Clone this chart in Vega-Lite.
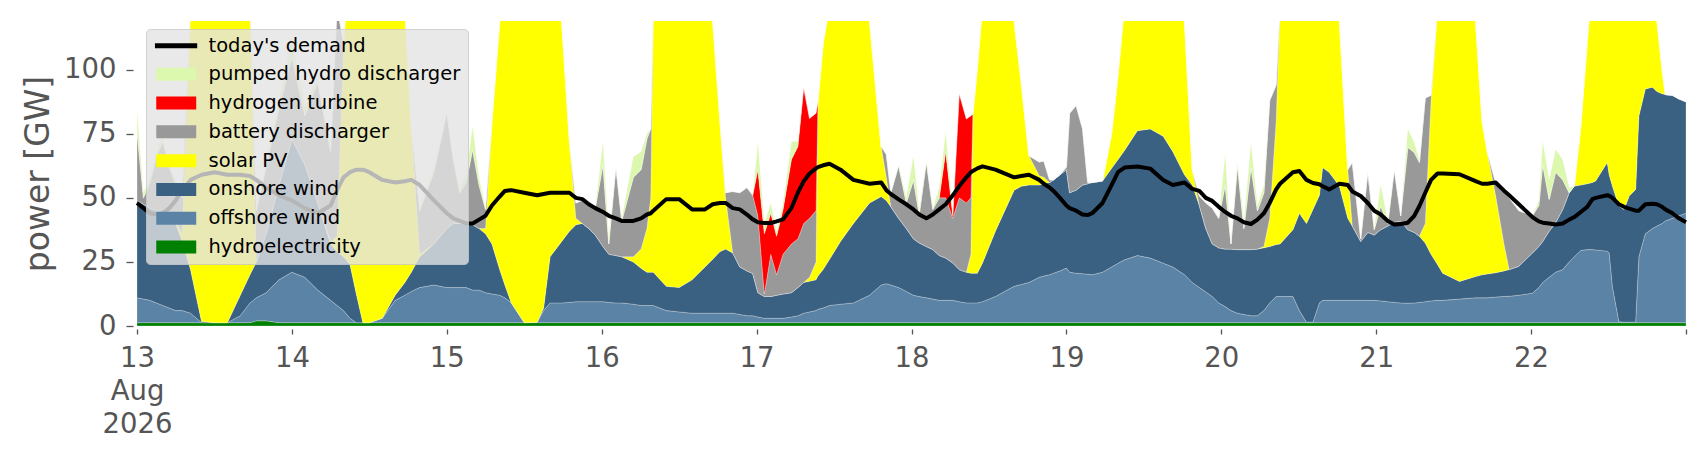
{
  "$schema": "https://vega.github.io/schema/vega-lite/v6.json",
  "width": 1549,
  "height": 305,
  "autosize": {"type": "none"},
  "padding": {"left": 137, "top": 21, "right": 20, "bottom": 114},
  "background": "#ffffff",
  "config": {
    "view": {"stroke": null},
    "font": "DejaVu Sans",
    "axis": {
      "domain": false,
      "grid": false,
      "labelFont": "DejaVu Sans",
      "titleFont": "DejaVu Sans",
      "labelColor": "#555555",
      "titleColor": "#555555",
      "tickColor": "#555555",
      "labelFontSize": 27.5,
      "titleFontWeight": "normal",
      "tickWidth": 1.3
    },
    "legend": {
      "labelFont": "DejaVu Sans",
      "titleFont": "DejaVu Sans",
      "labelFontSize": 19.5,
      "labelColor": "#000000",
      "labelLimit": 500,
      "symbolSize": 169,
      "symbolOpacity": 1,
      "labelOffset": 36,
      "rowPadding": 7.8,
      "padding": 7
    }
  },
  "data": {
    "values": [
      {"h": 0, "hy": 1.3, "off": 9.7, "on": 38, "pv": 0, "bat": 27, "h2": 0, "ph": 8, "d": 48},
      {"h": 1, "hy": 1.3, "off": 9.2, "on": 37, "pv": 0, "bat": 2.5, "h2": 0, "ph": 2, "d": 46},
      {"h": 2, "hy": 1.3, "off": 8.7, "on": 36, "pv": 0, "bat": 10, "h2": 0, "ph": 2, "d": 44},
      {"h": 3, "hy": 1.3, "off": 7.7, "on": 36, "pv": 0, "bat": 21, "h2": 0, "ph": 2, "d": 43.5},
      {"h": 4, "hy": 1.3, "off": 6.7, "on": 36, "pv": 0, "bat": 28, "h2": 0, "ph": 2, "d": 44},
      {"h": 5, "hy": 1.3, "off": 5.7, "on": 35, "pv": 0, "bat": 20, "h2": 0, "ph": 1, "d": 46},
      {"h": 6, "hy": 1.3, "off": 4.7, "on": 34, "pv": 1, "bat": 14, "h2": 0, "ph": 2, "d": 49},
      {"h": 7, "hy": 1.3, "off": 4.7, "on": 27, "pv": 3, "bat": 14, "h2": 0, "ph": 2, "d": 53},
      {"h": 8.3, "hy": 1.3, "off": 3.7, "on": 17, "pv": 103, "bat": 0, "h2": 0, "ph": 0, "d": 57},
      {"h": 10, "hy": 1.3, "off": 0, "on": 0.5, "pv": 148.5, "bat": 0, "h2": 0, "ph": 0, "d": 59},
      {"h": 12, "hy": 1.3, "off": 0, "on": 0, "pv": 159, "bat": 0, "h2": 0, "ph": 0, "d": 60},
      {"h": 14, "hy": 1.3, "off": 0, "on": 0, "pv": 159, "bat": 0, "h2": 0, "ph": 0, "d": 59},
      {"h": 16, "hy": 1.3, "off": 2.7, "on": 8, "pv": 138, "bat": 0, "h2": 0, "ph": 0, "d": 59},
      {"h": 17.5, "hy": 1.3, "off": 7.7, "on": 11, "pv": 110, "bat": 0, "h2": 0, "ph": 0, "d": 58.5},
      {"h": 18.5, "hy": 2, "off": 9, "on": 14, "pv": 0, "bat": 20, "h2": 0, "ph": 1, "d": 57},
      {"h": 20, "hy": 2, "off": 11, "on": 23, "pv": 0, "bat": 26, "h2": 0, "ph": 2, "d": 54},
      {"h": 22, "hy": 1.3, "off": 16.7, "on": 37, "pv": 0, "bat": 30, "h2": 0, "ph": 3, "d": 51},
      {"h": 24, "hy": 1.3, "off": 19.7, "on": 52, "pv": 0, "bat": 32, "h2": 0, "ph": 7, "d": 49},
      {"h": 26, "hy": 1.3, "off": 17.7, "on": 44, "pv": 0, "bat": 19, "h2": 0, "ph": 4, "d": 46},
      {"h": 28, "hy": 1.3, "off": 12.7, "on": 34, "pv": 0, "bat": 47, "h2": 0, "ph": 2, "d": 44},
      {"h": 30, "hy": 1.3, "off": 8.7, "on": 22, "pv": 1, "bat": 35, "h2": 0, "ph": 2, "d": 47},
      {"h": 31, "hy": 1.3, "off": 6.7, "on": 21, "pv": 6, "bat": 90, "h2": 0, "ph": 0, "d": 53},
      {"h": 32, "hy": 1.3, "off": 4.7, "on": 21, "pv": 83, "bat": 0, "h2": 0, "ph": 0, "d": 58},
      {"h": 33, "hy": 1.3, "off": 1.7, "on": 21, "pv": 126, "bat": 0, "h2": 0, "ph": 0, "d": 60},
      {"h": 34, "hy": 1.3, "off": 0, "on": 11, "pv": 148, "bat": 0, "h2": 0, "ph": 0, "d": 61},
      {"h": 35, "hy": 1.3, "off": 0, "on": 0, "pv": 159, "bat": 0, "h2": 0, "ph": 0, "d": 61},
      {"h": 36, "hy": 1.3, "off": 0, "on": 0, "pv": 159, "bat": 0, "h2": 0, "ph": 0, "d": 60},
      {"h": 38, "hy": 1.3, "off": 1.7, "on": 0, "pv": 147, "bat": 0, "h2": 0, "ph": 0, "d": 57},
      {"h": 40, "hy": 1.3, "off": 8.7, "on": 2, "pv": 128, "bat": 0, "h2": 0, "ph": 0, "d": 56},
      {"h": 41.5, "hy": 1.3, "off": 10.7, "on": 5, "pv": 108, "bat": 0, "h2": 0, "ph": 0, "d": 56.5},
      {"h": 42.5, "hy": 1.3, "off": 12.2, "on": 7.5, "pv": 57, "bat": 0, "h2": 0, "ph": 0, "d": 57},
      {"h": 43.8, "hy": 1.3, "off": 13.7, "on": 12, "pv": 1, "bat": 17, "h2": 0, "ph": 1, "d": 55},
      {"h": 46, "hy": 1.3, "off": 14.7, "on": 16, "pv": 0, "bat": 28, "h2": 0, "ph": 2, "d": 49},
      {"h": 48, "hy": 1.3, "off": 13.7, "on": 23, "pv": 0, "bat": 45, "h2": 0, "ph": 1, "d": 44},
      {"h": 49, "hy": 1.3, "off": 13.7, "on": 25, "pv": 0, "bat": 25, "h2": 0, "ph": 1, "d": 42},
      {"h": 50, "hy": 1.3, "off": 13.7, "on": 25, "pv": 0, "bat": 12, "h2": 0, "ph": 2, "d": 41},
      {"h": 51, "hy": 1.3, "off": 13.7, "on": 25, "pv": 0, "bat": 16, "h2": 0, "ph": 3, "d": 40},
      {"h": 52, "hy": 1.3, "off": 12.7, "on": 25.5, "pv": 0, "bat": 29.5, "h2": 0, "ph": 9, "d": 40},
      {"h": 53, "hy": 1.3, "off": 12.7, "on": 24, "pv": 0, "bat": 17, "h2": 0, "ph": 3, "d": 41.5},
      {"h": 54, "hy": 1.3, "off": 11.7, "on": 23, "pv": 2, "bat": 7.5, "h2": 0, "ph": 0.5, "d": 43},
      {"h": 55, "hy": 1.3, "off": 11.2, "on": 19.5, "pv": 48, "bat": 0, "h2": 0, "ph": 0, "d": 47},
      {"h": 56.2, "hy": 1.3, "off": 10.7, "on": 10, "pv": 97, "bat": 0, "h2": 0, "ph": 0, "d": 50.5},
      {"h": 57, "hy": 1.3, "off": 9.7, "on": 5, "pv": 124, "bat": 0, "h2": 0, "ph": 0, "d": 52.7},
      {"h": 58, "hy": 1.3, "off": 7.7, "on": 0, "pv": 146, "bat": 0, "h2": 0, "ph": 0, "d": 53},
      {"h": 60, "hy": 1.3, "off": 0, "on": 0, "pv": 159, "bat": 0, "h2": 0, "ph": 0, "d": 52},
      {"h": 62, "hy": 1.3, "off": 0.2, "on": 0, "pv": 158.5, "bat": 0, "h2": 0, "ph": 0, "d": 51},
      {"h": 63, "hy": 1.3, "off": 4.7, "on": 1, "pv": 148, "bat": 0, "h2": 0, "ph": 0, "d": 51.5},
      {"h": 64, "hy": 1.3, "off": 7.7, "on": 18, "pv": 123, "bat": 0, "h2": 0, "ph": 0, "d": 52},
      {"h": 65.8, "hy": 1.3, "off": 7.7, "on": 24, "pv": 86, "bat": 0, "h2": 0, "ph": 0, "d": 52},
      {"h": 67, "hy": 1.3, "off": 7.9, "on": 27.8, "pv": 35, "bat": 0, "h2": 0, "ph": 0, "d": 52},
      {"h": 68, "hy": 1.3, "off": 8.2, "on": 30, "pv": 2.5, "bat": 6, "h2": 0, "ph": 0, "d": 50},
      {"h": 69, "hy": 1.3, "off": 8.2, "on": 30.5, "pv": 0, "bat": 9, "h2": 0, "ph": 0, "d": 49.5},
      {"h": 70, "hy": 1.3, "off": 8.2, "on": 28.5, "pv": 0, "bat": 9, "h2": 0, "ph": 0, "d": 47.5},
      {"h": 71, "hy": 1.3, "off": 8.2, "on": 26, "pv": 0, "bat": 10.5, "h2": 0, "ph": 0, "d": 46},
      {"h": 72.2, "hy": 1.3, "off": 8.2, "on": 21.5, "pv": 0, "bat": 32, "h2": 0, "ph": 9, "d": 44.5},
      {"h": 73.1, "hy": 1.3, "off": 7.9, "on": 18.8, "pv": 0, "bat": 4, "h2": 0, "ph": 3, "d": 43},
      {"h": 74.2, "hy": 1.3, "off": 7.7, "on": 18.5, "pv": 0, "bat": 34.5, "h2": 0, "ph": 0, "d": 42},
      {"h": 75.1, "hy": 1.3, "off": 7.7, "on": 18, "pv": 0, "bat": 14, "h2": 0, "ph": 1, "d": 41},
      {"h": 76.9, "hy": 1.3, "off": 7.2, "on": 16.5, "pv": 2, "bat": 31, "h2": 0, "ph": 8, "d": 41},
      {"h": 78.1, "hy": 1.3, "off": 6.7, "on": 14.5, "pv": 7.5, "bat": 31, "h2": 0, "ph": 7, "d": 42},
      {"h": 79, "hy": 1.3, "off": 6.7, "on": 13, "pv": 17, "bat": 35, "h2": 0, "ph": 2, "d": 43.5},
      {"h": 79.6, "hy": 1.3, "off": 6.7, "on": 13, "pv": 29, "bat": 27, "h2": 0, "ph": 0, "d": 44},
      {"h": 80, "hy": 1.3, "off": 6.7, "on": 13, "pv": 104, "bat": 0, "h2": 0, "ph": 0, "d": 45},
      {"h": 82, "hy": 1.3, "off": 4.7, "on": 9.5, "pv": 134.5, "bat": 0, "h2": 0, "ph": 0, "d": 49.5},
      {"h": 84, "hy": 1.3, "off": 4.2, "on": 9.5, "pv": 145, "bat": 0, "h2": 0, "ph": 0, "d": 49.5},
      {"h": 86, "hy": 1.3, "off": 3.7, "on": 13, "pv": 137, "bat": 0, "h2": 0, "ph": 0, "d": 45.5},
      {"h": 88, "hy": 1.3, "off": 3.7, "on": 18, "pv": 117, "bat": 0, "h2": 0, "ph": 0, "d": 45.5},
      {"h": 89.2, "hy": 1.3, "off": 3.7, "on": 21, "pv": 93, "bat": 0, "h2": 0, "ph": 0, "d": 47.5},
      {"h": 90.3, "hy": 1.3, "off": 3.7, "on": 24, "pv": 52, "bat": 0, "h2": 0, "ph": 0, "d": 48},
      {"h": 91.2, "hy": 1.3, "off": 3.7, "on": 25, "pv": 20, "bat": 2, "h2": 0, "ph": 0, "d": 48},
      {"h": 92.3, "hy": 1.3, "off": 3.7, "on": 23.5, "pv": 0, "bat": 24, "h2": 0, "ph": 0, "d": 46},
      {"h": 93.4, "hy": 1.3, "off": 3.2, "on": 18.5, "pv": 0, "bat": 29, "h2": 0, "ph": 0, "d": 45.5},
      {"h": 94.5, "hy": 1.3, "off": 2.7, "on": 17.5, "pv": 0, "bat": 32.5, "h2": 0, "ph": 0, "d": 43.5},
      {"h": 95.4, "hy": 1.3, "off": 2.7, "on": 16.5, "pv": 0, "bat": 30.5, "h2": 0, "ph": 0, "d": 41.6},
      {"h": 96.2, "hy": 1.3, "off": 2.2, "on": 9.5, "pv": 0, "bat": 30, "h2": 18, "ph": 10.6, "d": 40.5},
      {"h": 97.2, "hy": 1.3, "off": 1.7, "on": 8.5, "pv": 0, "bat": 1, "h2": 23.5, "ph": 4, "d": 40.2},
      {"h": 98.2, "hy": 1.3, "off": 1.7, "on": 8.5, "pv": 0, "bat": 16.5, "h2": 16, "ph": 4, "d": 40.2},
      {"h": 99.1, "hy": 1.3, "off": 1.7, "on": 9, "pv": 0, "bat": 8, "h2": 15, "ph": 2, "d": 40.8},
      {"h": 100.1, "hy": 1.3, "off": 1.7, "on": 9.5, "pv": 0, "bat": 15.5, "h2": 17.5, "ph": 2.5, "d": 41.6},
      {"h": 101.4, "hy": 1.3, "off": 2.2, "on": 9.5, "pv": 0, "bat": 19, "h2": 33, "ph": 7, "d": 46},
      {"h": 102.4, "hy": 1.3, "off": 2.7, "on": 11, "pv": 0, "bat": 19, "h2": 36, "ph": 2, "d": 52},
      {"h": 103.3, "hy": 1.3, "off": 3.7, "on": 12, "pv": 0, "bat": 23, "h2": 53, "ph": 0, "d": 56.5},
      {"h": 104.2, "hy": 1.3, "off": 4.2, "on": 12, "pv": 1.5, "bat": 23, "h2": 39, "ph": 0, "d": 59.5},
      {"h": 105.2, "hy": 1.3, "off": 4.7, "on": 12, "pv": 7, "bat": 20, "h2": 38, "ph": 0, "d": 61.5},
      {"h": 105.5, "hy": 1.3, "off": 5.2, "on": 13, "pv": 68, "bat": 0, "h2": 0, "ph": 0, "d": 62},
      {"h": 106.3, "hy": 1.3, "off": 5.7, "on": 15, "pv": 88, "bat": 0, "h2": 0, "ph": 0, "d": 62.7},
      {"h": 107.3, "hy": 1.3, "off": 6.7, "on": 18, "pv": 99, "bat": 0, "h2": 0, "ph": 0, "d": 63.3},
      {"h": 109, "hy": 1.3, "off": 7.2, "on": 24.5, "pv": 122, "bat": 0, "h2": 0, "ph": 0, "d": 61},
      {"h": 111, "hy": 1.3, "off": 7.7, "on": 31, "pv": 120, "bat": 0, "h2": 0, "ph": 0, "d": 57},
      {"h": 113.5, "hy": 1.3, "off": 10.7, "on": 36, "pv": 71, "bat": 0, "h2": 0, "ph": 0, "d": 55.5},
      {"h": 115.3, "hy": 1.3, "off": 14.7, "on": 34.5, "pv": 19.5, "bat": 0, "h2": 0, "ph": 0, "d": 56},
      {"h": 116.1, "hy": 1.3, "off": 15.2, "on": 32.5, "pv": 9, "bat": 9, "h2": 0, "ph": 0, "d": 53},
      {"h": 116.8, "hy": 1.3, "off": 14.7, "on": 30.5, "pv": 0, "bat": 5.5, "h2": 0, "ph": 0, "d": 51.5},
      {"h": 118, "hy": 1.3, "off": 13.7, "on": 27, "pv": 0, "bat": 20.5, "h2": 0, "ph": 0.5, "d": 49.4},
      {"h": 119.2, "hy": 1.3, "off": 12.2, "on": 24.5, "pv": 0, "bat": 10, "h2": 0, "ph": 2, "d": 47.5},
      {"h": 120.3, "hy": 1.3, "off": 10.7, "on": 22, "pv": 0, "bat": 23, "h2": 0, "ph": 9.4, "d": 45.5},
      {"h": 121.2, "hy": 1.3, "off": 10.2, "on": 20.9, "pv": 0, "bat": 11.1, "h2": 0, "ph": 1.5, "d": 43.5},
      {"h": 122.3, "hy": 1.3, "off": 9.7, "on": 20, "pv": 0, "bat": 33, "h2": 0, "ph": 0.5, "d": 42},
      {"h": 123.3, "hy": 1.3, "off": 9.2, "on": 19.3, "pv": 0, "bat": 15.7, "h2": 0, "ph": 0.5, "d": 43.5},
      {"h": 124.3, "hy": 1.3, "off": 8.7, "on": 17.5, "pv": 0, "bat": 22.5, "h2": 0, "ph": 4, "d": 45.5},
      {"h": 125.3, "hy": 1.3, "off": 8.7, "on": 16.5, "pv": 0, "bat": 23.5, "h2": 18, "ph": 8, "d": 47.5},
      {"h": 126.4, "hy": 1.3, "off": 8.7, "on": 14.6, "pv": 0, "bat": 17.4, "h2": 1, "ph": 1, "d": 51},
      {"h": 127.4, "hy": 1.3, "off": 8.2, "on": 12.5, "pv": 0, "bat": 28, "h2": 40.6, "ph": 0, "d": 54.6},
      {"h": 128.5, "hy": 1.3, "off": 7.7, "on": 12, "pv": 0, "bat": 27, "h2": 32.8, "ph": 0, "d": 58},
      {"h": 129.2, "hy": 1.3, "off": 7.7, "on": 11.6, "pv": 7.4, "bat": 22, "h2": 32, "ph": 0, "d": 60},
      {"h": 129.5, "hy": 1.3, "off": 7.7, "on": 11.6, "pv": 62, "bat": 0, "h2": 0, "ph": 0, "d": 60.5},
      {"h": 130.2, "hy": 1.3, "off": 7.7, "on": 11.6, "pv": 80, "bat": 0, "h2": 0, "ph": 0, "d": 61.5},
      {"h": 131, "hy": 1.3, "off": 8.2, "on": 15.1, "pv": 100.4, "bat": 0, "h2": 0, "ph": 0, "d": 62.3},
      {"h": 133, "hy": 1.3, "off": 10.2, "on": 25.5, "pv": 118, "bat": 0, "h2": 0, "ph": 0, "d": 61},
      {"h": 135.9, "hy": 1.3, "off": 14.2, "on": 37.5, "pv": 66, "bat": 0, "h2": 0, "ph": 0, "d": 58},
      {"h": 137, "hy": 1.3, "off": 14.9, "on": 38.3, "pv": 40.5, "bat": 0, "h2": 0, "ph": 0, "d": 58.5},
      {"h": 138.2, "hy": 1.3, "off": 15.7, "on": 38, "pv": 11.4, "bat": 0, "h2": 0, "ph": 0, "d": 59},
      {"h": 139.8, "hy": 1.3, "off": 17.7, "on": 36, "pv": 3.6, "bat": 5.4, "h2": 0, "ph": 0, "d": 57},
      {"h": 140.5, "hy": 1.3, "off": 18.2, "on": 36, "pv": 2.5, "bat": 6.4, "h2": 0, "ph": 0, "d": 55.5},
      {"h": 141.4, "hy": 1.3, "off": 18.7, "on": 36, "pv": 0, "bat": 1, "h2": 0, "ph": 0, "d": 54},
      {"h": 142, "hy": 1.3, "off": 19.3, "on": 36.4, "pv": 0, "bat": 0, "h2": 0, "ph": 0, "d": 52.7},
      {"h": 143, "hy": 1.3, "off": 20.2, "on": 37.5, "pv": 0, "bat": 0, "h2": 0, "ph": 0, "d": 50},
      {"h": 144, "hy": 1.3, "off": 21.3, "on": 38.4, "pv": 0, "bat": 1, "h2": 0, "ph": 0, "d": 47},
      {"h": 144.5, "hy": 1.3, "off": 19.7, "on": 31, "pv": 0, "bat": 31, "h2": 0, "ph": 0, "d": 46},
      {"h": 145.5, "hy": 1.3, "off": 19.3, "on": 32.4, "pv": 0, "bat": 33, "h2": 0, "ph": 0, "d": 45},
      {"h": 146.5, "hy": 1.3, "off": 19.1, "on": 34.6, "pv": 0, "bat": 22, "h2": 0, "ph": 0, "d": 43.5},
      {"h": 147.3, "hy": 1.3, "off": 18.9, "on": 35.3, "pv": 0, "bat": 0.5, "h2": 0, "ph": 0, "d": 43.3},
      {"h": 148, "hy": 1.3, "off": 18.7, "on": 36, "pv": 0, "bat": 0, "h2": 0, "ph": 0, "d": 44},
      {"h": 149.6, "hy": 1.3, "off": 19.7, "on": 35.6, "pv": 0, "bat": 0, "h2": 0, "ph": 0, "d": 48},
      {"h": 151, "hy": 1.3, "off": 21.7, "on": 38.5, "pv": 13.5, "bat": 0, "h2": 0, "ph": 0, "d": 55},
      {"h": 152, "hy": 1.3, "off": 23.2, "on": 40.5, "pv": 33, "bat": 0, "h2": 0, "ph": 0, "d": 60},
      {"h": 153, "hy": 1.3, "off": 24.5, "on": 42.7, "pv": 56.5, "bat": 0, "h2": 0, "ph": 0, "d": 61.8},
      {"h": 155, "hy": 1.3, "off": 26.2, "on": 48.7, "pv": 83.8, "bat": 0, "h2": 0, "ph": 0, "d": 62.2},
      {"h": 157, "hy": 1.3, "off": 25.2, "on": 50.4, "pv": 88.1, "bat": 0, "h2": 0, "ph": 0, "d": 61.4},
      {"h": 159, "hy": 1.3, "off": 23.2, "on": 49.5, "pv": 81, "bat": 0, "h2": 0, "ph": 0, "d": 57},
      {"h": 160.5, "hy": 1.3, "off": 21.7, "on": 45, "pv": 72, "bat": 0, "h2": 0, "ph": 0, "d": 55},
      {"h": 162.3, "hy": 1.3, "off": 18.7, "on": 39, "pv": 60, "bat": 0, "h2": 0, "ph": 0, "d": 56},
      {"h": 163.5, "hy": 1.3, "off": 15.7, "on": 38, "pv": 6, "bat": 0, "h2": 0, "ph": 0, "d": 53.5},
      {"h": 164.6, "hy": 1.3, "off": 13.7, "on": 32, "pv": 0, "bat": 3.7, "h2": 0, "ph": 0, "d": 52.7},
      {"h": 165.6, "hy": 1.3, "off": 12, "on": 24.7, "pv": 0, "bat": 10, "h2": 0, "ph": 0, "d": 50},
      {"h": 166.6, "hy": 1.3, "off": 10.2, "on": 20.5, "pv": 0, "bat": 14, "h2": 0, "ph": 0, "d": 48.8},
      {"h": 167.6, "hy": 1.3, "off": 7.7, "on": 21.5, "pv": 0, "bat": 11.5, "h2": 0, "ph": 0, "d": 46.5},
      {"h": 168.6, "hy": 1.3, "off": 6.3, "on": 22.4, "pv": 0, "bat": 25, "h2": 0, "ph": 12, "d": 44.5},
      {"h": 169.5, "hy": 1.3, "off": 4.7, "on": 24, "pv": 0, "bat": 2, "h2": 0, "ph": 0, "d": 43},
      {"h": 170.5, "hy": 1.3, "off": 3.7, "on": 24.8, "pv": 0, "bat": 32.7, "h2": 0, "ph": 1.5, "d": 42},
      {"h": 171.5, "hy": 1.3, "off": 3.2, "on": 25.3, "pv": 0, "bat": 8.2, "h2": 0, "ph": 3, "d": 40.5},
      {"h": 172.6, "hy": 1.3, "off": 2.7, "on": 25.8, "pv": 0, "bat": 32.2, "h2": 0, "ph": 9.6, "d": 39.8},
      {"h": 173.6, "hy": 1.3, "off": 2.7, "on": 26, "pv": 0, "bat": 15, "h2": 0, "ph": 2, "d": 41.5},
      {"h": 174.6, "hy": 1.3, "off": 4.7, "on": 24.5, "pv": 0.5, "bat": 21, "h2": 0, "ph": 3, "d": 44},
      {"h": 175.5, "hy": 1.3, "off": 7.7, "on": 22, "pv": 11, "bat": 46, "h2": 0, "ph": 0, "d": 48},
      {"h": 176.5, "hy": 1.3, "off": 10.2, "on": 20.3, "pv": 48.2, "bat": 14, "h2": 0, "ph": 0, "d": 53.3},
      {"h": 177.1, "hy": 1.3, "off": 10.2, "on": 20.5, "pv": 93, "bat": 0, "h2": 0, "ph": 0, "d": 55.5},
      {"h": 179.1, "hy": 1.3, "off": 10.2, "on": 26.1, "pv": 122.4, "bat": 0, "h2": 0, "ph": 0, "d": 60},
      {"h": 180.1, "hy": 1.3, "off": 4.7, "on": 38, "pv": 116, "bat": 0, "h2": 0, "ph": 0, "d": 60.5},
      {"h": 181.2, "hy": 1.3, "off": 0.2, "on": 38.5, "pv": 110, "bat": 0, "h2": 0, "ph": 0, "d": 57},
      {"h": 182.2, "hy": 1.3, "off": 0.2, "on": 44, "pv": 104.5, "bat": 0, "h2": 0, "ph": 0, "d": 55.8},
      {"h": 183.2, "hy": 1.3, "off": 7.7, "on": 42, "pv": 99, "bat": 0, "h2": 0, "ph": 0, "d": 55.3},
      {"h": 183.7, "hy": 1.3, "off": 8.7, "on": 51.8, "pv": 83.2, "bat": 0, "h2": 0, "ph": 0, "d": 54.5},
      {"h": 184.7, "hy": 1.3, "off": 8.7, "on": 50, "pv": 80, "bat": 0, "h2": 0, "ph": 0, "d": 53.3},
      {"h": 186.3, "hy": 1.3, "off": 8.7, "on": 44.6, "pv": 64.4, "bat": 0, "h2": 0, "ph": 0, "d": 55.5},
      {"h": 187.6, "hy": 1.3, "off": 8.7, "on": 32, "pv": 19, "bat": 0, "h2": 0, "ph": 0, "d": 55},
      {"h": 188.3, "hy": 1.3, "off": 8.7, "on": 29, "pv": 0, "bat": 24.8, "h2": 0, "ph": 0, "d": 52.5},
      {"h": 189.6, "hy": 1.3, "off": 8.7, "on": 23, "pv": 0, "bat": 1, "h2": 0, "ph": 0, "d": 50.7},
      {"h": 190.7, "hy": 1.3, "off": 8.7, "on": 26.5, "pv": 0, "bat": 23.5, "h2": 0, "ph": 0, "d": 48},
      {"h": 191.7, "hy": 1.3, "off": 8.7, "on": 25.5, "pv": 0, "bat": 2.1, "h2": 0, "ph": 0.4, "d": 45},
      {"h": 192.7, "hy": 1.3, "off": 8.5, "on": 27.8, "pv": 0, "bat": 9.2, "h2": 0, "ph": 8.5, "d": 43.5},
      {"h": 193.8, "hy": 1.3, "off": 8.2, "on": 29.5, "pv": 0, "bat": 1, "h2": 0, "ph": 1, "d": 41},
      {"h": 194.8, "hy": 1.3, "off": 7.9, "on": 31.3, "pv": 0, "bat": 20.5, "h2": 0, "ph": 0, "d": 39.6},
      {"h": 195.8, "hy": 1.3, "off": 7.7, "on": 32, "pv": 0, "bat": 2, "h2": 0, "ph": 0, "d": 39.8},
      {"h": 196.9, "hy": 1.3, "off": 7.6, "on": 28.7, "pv": 0, "bat": 32.1, "h2": 0, "ph": 7.2, "d": 40.3},
      {"h": 197.9, "hy": 1.3, "off": 7.7, "on": 27.5, "pv": 0, "bat": 31.2, "h2": 0, "ph": 3.9, "d": 43},
      {"h": 198.7, "hy": 1.3, "off": 7.9, "on": 25.8, "pv": 0, "bat": 28.8, "h2": 0, "ph": 0.7, "d": 46.8},
      {"h": 199.6, "hy": 1.3, "off": 8.2, "on": 22.9, "pv": 7.6, "bat": 49, "h2": 0, "ph": 0, "d": 52},
      {"h": 200.5, "hy": 1.3, "off": 8.5, "on": 18.2, "pv": 60, "bat": 2, "h2": 0, "ph": 0, "d": 57},
      {"h": 201.5, "hy": 1.3, "off": 8.7, "on": 14, "pv": 101, "bat": 0, "h2": 0, "ph": 0, "d": 59.5},
      {"h": 202.3, "hy": 1.3, "off": 8.7, "on": 10.6, "pv": 129.4, "bat": 0, "h2": 0, "ph": 0, "d": 59.5},
      {"h": 204.9, "hy": 1.3, "off": 9.2, "on": 6.9, "pv": 147.6, "bat": 0, "h2": 0, "ph": 0, "d": 59.2},
      {"h": 207.4, "hy": 1.3, "off": 9.7, "on": 8.3, "pv": 99.7, "bat": 0, "h2": 0, "ph": 0, "d": 56.5},
      {"h": 208.4, "hy": 1.3, "off": 9.7, "on": 9, "pv": 60, "bat": 0, "h2": 0, "ph": 0, "d": 55.5},
      {"h": 209.2, "hy": 1.3, "off": 9.7, "on": 9.3, "pv": 47.7, "bat": 0, "h2": 0, "ph": 0, "d": 55.5},
      {"h": 210.5, "hy": 1.3, "off": 10, "on": 9.5, "pv": 30.2, "bat": 5, "h2": 0, "ph": 0, "d": 56},
      {"h": 211.8, "hy": 1.3, "off": 10.2, "on": 10, "pv": 10.5, "bat": 20, "h2": 0, "ph": 0, "d": 52.8},
      {"h": 212.6, "hy": 1.3, "off": 10.3, "on": 10.4, "pv": 0, "bat": 28, "h2": 0, "ph": 0, "d": 51},
      {"h": 214.1, "hy": 1.3, "off": 10.7, "on": 11.3, "pv": 0, "bat": 21.7, "h2": 0, "ph": 0, "d": 47.5},
      {"h": 216.2, "hy": 1.3, "off": 11.5, "on": 15.7, "pv": 0, "bat": 14.5, "h2": 0, "ph": 0, "d": 42.5},
      {"h": 217.2, "hy": 1.3, "off": 13.7, "on": 16, "pv": 0, "bat": 16, "h2": 0, "ph": 2, "d": 40.8},
      {"h": 217.8, "hy": 1.3, "off": 15.7, "on": 16, "pv": 0, "bat": 30, "h2": 0, "ph": 9.3, "d": 40.3},
      {"h": 218.8, "hy": 1.3, "off": 17.7, "on": 18, "pv": 0, "bat": 12.4, "h2": 0, "ph": 7.6, "d": 40},
      {"h": 219.8, "hy": 1.3, "off": 19.7, "on": 19.3, "pv": 0, "bat": 19.7, "h2": 0, "ph": 9, "d": 39.6},
      {"h": 220.9, "hy": 1.3, "off": 20.7, "on": 23.5, "pv": 0, "bat": 11.5, "h2": 0, "ph": 8, "d": 40},
      {"h": 221.9, "hy": 1.3, "off": 23.7, "on": 27, "pv": 0, "bat": 0, "h2": 0, "ph": 2, "d": 41.5},
      {"h": 222.7, "hy": 1.3, "off": 25.7, "on": 27.6, "pv": 0, "bat": 0, "h2": 0, "ph": 0, "d": 42.5},
      {"h": 223.7, "hy": 1.3, "off": 28.2, "on": 25.5, "pv": 23, "bat": 0, "h2": 0, "ph": 0, "d": 44.5},
      {"h": 224.7, "hy": 1.3, "off": 28.5, "on": 25.7, "pv": 55.5, "bat": 0, "h2": 0, "ph": 0, "d": 46.5},
      {"h": 225.5, "hy": 1.3, "off": 28.5, "on": 26.2, "pv": 79, "bat": 0, "h2": 0, "ph": 0, "d": 49.5},
      {"h": 226, "hy": 1.3, "off": 28.4, "on": 26.9, "pv": 88.4, "bat": 0, "h2": 0, "ph": 0, "d": 50},
      {"h": 227.8, "hy": 1.3, "off": 27.9, "on": 34.6, "pv": 96.2, "bat": 0, "h2": 0, "ph": 0, "d": 51},
      {"h": 228.1, "hy": 1.3, "off": 27.2, "on": 30.5, "pv": 101, "bat": 0, "h2": 0, "ph": 0, "d": 50.8},
      {"h": 228.6, "hy": 1.3, "off": 14.1, "on": 39.2, "pv": 100.4, "bat": 0, "h2": 0, "ph": 0, "d": 50},
      {"h": 229.6, "hy": 1.3, "off": 0.4, "on": 45.1, "pv": 103.2, "bat": 0, "h2": 0, "ph": 0, "d": 47.5},
      {"h": 230.4, "hy": 1.3, "off": 0.2, "on": 44, "pv": 102.5, "bat": 0, "h2": 0, "ph": 0, "d": 46.5},
      {"h": 231.2, "hy": 1.3, "off": 0.2, "on": 49.2, "pv": 94.3, "bat": 0, "h2": 0, "ph": 0, "d": 45.8},
      {"h": 232.2, "hy": 1.3, "off": 0.2, "on": 51.8, "pv": 91.7, "bat": 0, "h2": 0, "ph": 0, "d": 45},
      {"h": 232.7, "hy": 1.3, "off": 25.7, "on": 55, "pv": 63, "bat": 0, "h2": 0, "ph": 0, "d": 45},
      {"h": 233.7, "hy": 1.3, "off": 34.7, "on": 56.5, "pv": 52.5, "bat": 0, "h2": 0, "ph": 0, "d": 47.5},
      {"h": 234.8, "hy": 1.3, "off": 36.7, "on": 55.2, "pv": 46.8, "bat": 0, "h2": 0, "ph": 0, "d": 47.7},
      {"h": 235.5, "hy": 1.3, "off": 37.7, "on": 52.5, "pv": 27.5, "bat": 0, "h2": 0, "ph": 0, "d": 47.5},
      {"h": 236.3, "hy": 1.3, "off": 38.7, "on": 50.6, "pv": 9.4, "bat": 0, "h2": 0, "ph": 0, "d": 46.5},
      {"h": 236.8, "hy": 1.3, "off": 39.7, "on": 49.3, "pv": 0, "bat": 0, "h2": 0, "ph": 0, "d": 45.5},
      {"h": 237.9, "hy": 1.3, "off": 40.7, "on": 48, "pv": 0, "bat": 0, "h2": 0, "ph": 0, "d": 44},
      {"h": 238.9, "hy": 1.3, "off": 41.7, "on": 45.6, "pv": 0, "bat": 0, "h2": 0, "ph": 0, "d": 42},
      {"h": 240, "hy": 1.3, "off": 42.7, "on": 43.5, "pv": 0, "bat": 0, "h2": 0, "ph": 0, "d": 40.5}
    ]
  },
  "encoding": {
    "x": {
      "field": "h",
      "type": "quantitative",
      "scale": {"domain": [0, 240], "nice": false, "zero": false},
      "axis": {
        "title": null,
        "values": [0, 24, 48, 72, 96, 120, 144, 168, 192, 216, 240],
        "labelExpr": "datum.value == 0 ? ['13', 'Aug', '2026'] : (datum.value >= 240 ? '' : format(13 + datum.value / 24, 'd'))",
        "labelFlush": false,
        "labelOverlap": false,
        "offset": 3,
        "tickSize": 5,
        "labelPadding": 10,
        "labelLineHeight": 33,
        "labelBaseline": "top"
      }
    }
  },
  "layer": [
    {
      "transform": [
        {"fold": ["hy", "off", "on", "pv", "bat", "h2", "ph"], "as": ["k", "v"]},
        {"calculate": "indexof(['hy', 'off', 'on', 'pv', 'bat', 'h2', 'ph'], datum.k)", "as": "o"}
      ],
      "mark": {"type": "area", "clip": true, "stroke": "#ffffff", "strokeWidth": 0.4, "strokeOpacity": 0.6},
      "encoding": {
        "y": {
          "field": "v",
          "type": "quantitative",
          "stack": "zero",
          "title": "power [GW]",
          "scale": {"domain": [0, 119], "nice": false},
          "axis": {"values": [0, 25, 50, 75, 100], "titleFontSize": 33, "titlePadding": 8, "tickSize": 7, "offset": 4, "labelPadding": 10}
        },
        "fill": {
          "field": "k",
          "type": "nominal",
          "scale": {
            "domain": ["ph", "h2", "bat", "pv", "on", "off", "hy"],
            "range": ["#dcf7ae", "#ff0000", "#999999", "#ffff00", "#3b6182", "#5b83a5", "#008000"]
          },
          "legend": {
            "orient": "none",
            "legendX": 9,
            "legendY": 8,
            "zindex": 1,
            "direction": "vertical",
            "title": " ",
            "titleFontSize": 19.5,
            "titlePadding": 9,
            "fillColor": "rgba(228,228,228,0.8)",
            "strokeColor": "rgba(200,200,200,0.8)",
            "cornerRadius": 4,
            "symbolType": "M-1,-1L5.15,-1L5.15,1L-1,1Z",
            "symbolStrokeWidth": 0,
            "labelExpr": "datum.value == 'ph' ? 'pumped hydro discharger' : datum.value == 'h2' ? 'hydrogen turbine' : datum.value == 'bat' ? 'battery discharger' : datum.value == 'pv' ? 'solar PV' : datum.value == 'on' ? 'onshore wind' : datum.value == 'off' ? 'offshore wind' : 'hydroelectricity'"
          }
        },
        "order": {"field": "o", "type": "quantitative", "sort": "ascending"}
      }
    },
    {
      "mark": {"type": "line", "strokeWidth": 4, "strokeJoin": "round"},
      "encoding": {
        "y": {
          "field": "d",
          "type": "quantitative",
          "title": "power [GW]",
          "axis": {"values": [0, 25, 50, 75, 100], "titleFontSize": 33, "titlePadding": 8, "tickSize": 7, "offset": 4, "labelPadding": 10}
        },
        "stroke": {
          "datum": "dem",
          "type": "nominal",
          "scale": {"domain": ["dem"], "range": ["#000000"]},
          "legend": {
            "orient": "none",
            "legendX": 9,
            "legendY": 8,
            "zindex": 2,
            "title": null,
            "symbolType": "M-1.2,0L5.3,0",
            "symbolStrokeWidth": 5,
            "labelExpr": "\"today's demand\""
          }
        }
      }
    }
  ]
}
